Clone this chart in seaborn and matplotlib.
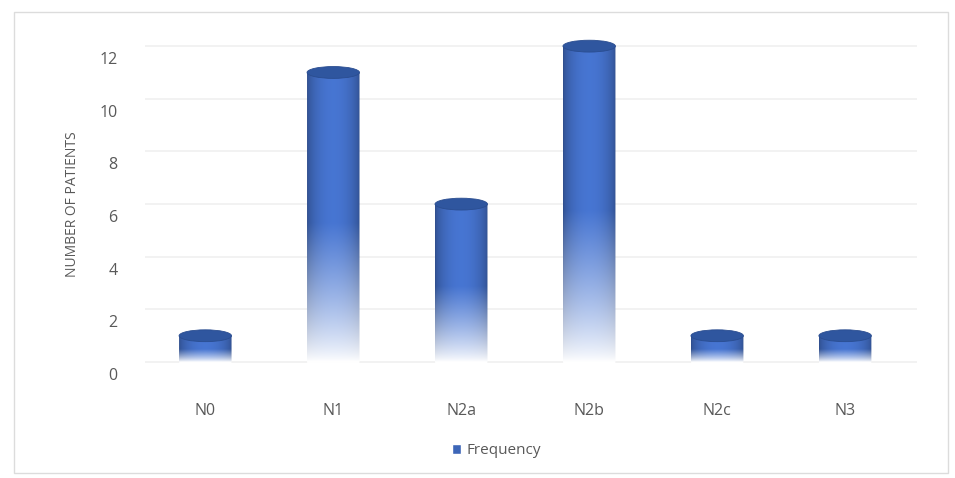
import numpy as np
import seaborn as sns
import matplotlib.pyplot as plt
import matplotlib.transforms as mtransforms
from matplotlib.patches import Ellipse, Polygon, Rectangle

categories = ["N0", "N1", "N2a", "N2b", "N2c", "N3"]
frequency = [1, 11, 6, 12, 1, 1]
y_ticks = [0, 2, 4, 6, 8, 10, 12]

blue = np.array([0.26, 0.43, 0.77])
text_gray = "#595959"

sns.set_theme(style="white")
plt.rcParams["font.family"] = ["Open Sans", "DejaVu Sans"]

fig = plt.figure(figsize=(9.55, 4.78), dpi=100)
ax = fig.add_axes([0.152, 0.226, 0.808, 0.694])

sns.barplot(x=categories, y=frequency, color=tuple(blue), width=0.41,
            ax=ax, zorder=2)

ax.set_ylim(-0.3, 12.3)
ax.set_xlim(-0.47, 5.56)
ax.set_yticks(y_ticks)
for t in y_ticks:
    ax.axhline(t, color="#f0f0f0", lw=1.2, zorder=0)

# cylinder shading: darker at the sides, fading to white towards the floor
nx, ny = 60, 200
u = np.linspace(0, 1, nx)
side = 0.72 + 0.35 * np.sin(np.pi * u) ** 0.6
cap_h = 0.45

for patch in ax.patches:
    x0 = patch.get_x()
    w = patch.get_width()
    h = patch.get_height()
    x1 = x0 + w
    xc = x0 + w / 2
    patch.set_visible(False)

    v = np.linspace(-cap_h / 2, h, ny)
    t = np.clip(v / max(h, 1e-6), 0, 1)
    mix = np.clip(t / 0.48, 0, 1) ** 0.8
    col = np.clip(blue[None, None, :] * side[None, :, None], 0, 1)
    col = np.repeat(col, ny, axis=0)
    m = mix[:, None, None]
    img = col * m + (1 - m) * 1.0
    img = img[::-1]

    th = np.linspace(np.pi, 2 * np.pi, 40)
    arc = np.column_stack([xc + w / 2 * np.cos(th), cap_h / 2 * np.sin(th)])
    pts = np.vstack([[x0, h], arc, [x1, h]])
    clip = Polygon(pts, closed=True, transform=ax.transData)

    im = ax.imshow(img, extent=[x0, x1, -cap_h / 2, h], aspect="auto",
                   zorder=3, interpolation="bilinear")
    im.set_clip_path(clip)

    ax.add_patch(Ellipse((xc, h), w, cap_h, facecolor="#2f569f",
                         edgecolor="#2a4d90", lw=0.6, zorder=4))

ax.set_xlim(-0.47, 5.56)
ax.set_ylim(-0.3, 12.3)

for s in ax.spines.values():
    s.set_visible(False)
ax.tick_params(axis="both", length=0, labelsize=11.5, colors=text_gray)
ax.tick_params(axis="x", pad=24)
ax.tick_params(axis="y", pad=20)
offset = mtransforms.ScaledTranslation(0, -0.12, fig.dpi_scale_trans)
for lab in ax.get_yticklabels():
    lab.set_transform(lab.get_transform() + offset)

ax.set_ylabel("NUMBER OF PATIENTS", fontsize=10, color=text_gray, labelpad=14)
ax.set_xlabel("")

handle = Rectangle((0, 0), 1, 1, facecolor="#3d66b8")
fig.legend([handle], ["Frequency"], loc="center", bbox_to_anchor=(0.52, 0.057),
           frameon=False, fontsize=11, labelcolor=text_gray,
           handlelength=0.6, handleheight=0.6, handletextpad=0.4)

fig.patches.append(Rectangle((14 / 955, 5 / 478), 934 / 955, 461 / 478,
                             transform=fig.transFigure, fill=False,
                             edgecolor="#dcdcdc", lw=1))

fig.savefig("out.png", dpi=100)
